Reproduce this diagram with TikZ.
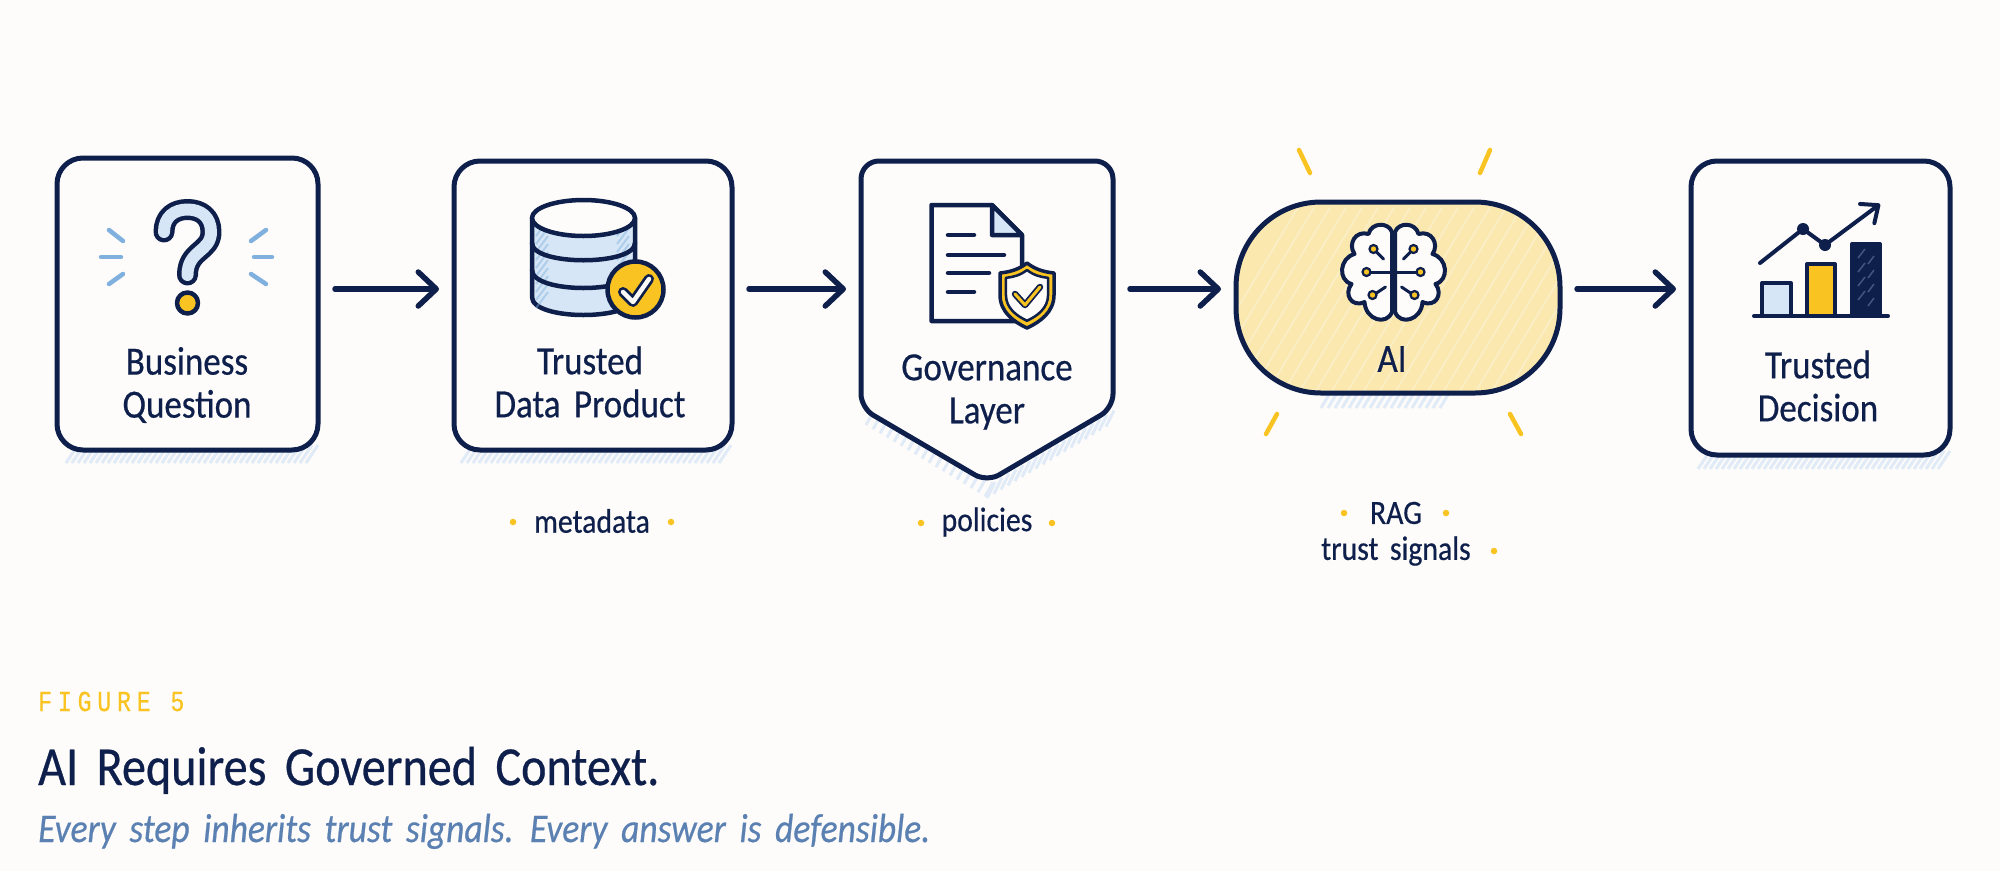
\documentclass[tikz,border=0pt]{standalone}
\usepackage{fontspec}
\setmainfont[WordSpace=1.7,FakeStretch=0.875,FakeBold=0.5]{Carlito}
\newfontfamily\captionmono[LetterSpace=20,FakeStretch=0.8,FakeBold=0.4]{Liberation Mono}
\usetikzlibrary{arrows.meta}
\definecolor{pagebg}{HTML}{FDFCFA}
\definecolor{inkblue}{HTML}{0E1F4B}
\definecolor{signyellow}{HTML}{F9C421}
\definecolor{softblue}{HTML}{D6E6F6}
\definecolor{rayblue}{HTML}{7FB0DE}
\definecolor{hatchblue}{HTML}{E0EBF7}
\definecolor{pillyellow}{HTML}{FBE8AE}
\definecolor{pillhatch}{HTML}{FCEEC4}
\definecolor{barhatch}{HTML}{44557F}
\definecolor{subtitleblue}{HTML}{5B80B2}
\tikzset{
    frame/.style={draw=inkblue,line width=5pt,fill=pagebg,outer sep=0pt,inner sep=0pt,rounded corners=26pt},
    ghost/.style={outer sep=0pt,inner sep=0pt},
    flowarrow/.style={draw=inkblue,line width=5.5pt,line cap=round,-{Straight Barb[length=18pt,width=34pt,round]},shorten <=17pt,shorten >=15pt},
    steplabel/.style={text=inkblue,align=center,font=\fontsize{40}{43}\selectfont,inner sep=0pt},
    sidelabel/.style={text=inkblue,font=\fontsize{34}{36}\selectfont,inner sep=0pt},
    sidedot/.style={circle,fill=signyellow,minimum size=6.5pt,inner sep=0pt},
    hatchline/.style={draw=hatchblue,line width=3pt},
    icon/.style={draw=inkblue,line width=4.5pt,line join=round,line cap=round},
    rayline/.style={draw=rayblue,line width=4.5pt,line cap=round},
    sunline/.style={draw=signyellow,line width=4.5pt,line cap=round},
}
\newcommand{\questionpath}{(164,232) .. controls (164,217) and (174,209.5) .. (187.5,209.5) .. controls (201,209.5) and (211,217) .. (211,232) .. controls (211,252) and (187.5,250) .. (187.5,275)}
\newcommand{\crestpath}{(1027,263) .. controls (1036,270) and (1045,272) .. (1054,273) -- (1054,295) .. controls (1054,312) and (1040,322) .. (1027,328) .. controls (1014,322) and (1000,312) .. (1000,295) -- (1000,273) .. controls (1009,272) and (1018,270) .. (1027,263) -- cycle}
\newcommand{\brainlobe}{(-1.5,-42) .. controls (-5,-52) and (-22,-52) .. (-25,-40) .. controls (-38,-44) and (-46,-30) .. (-39,-20) .. controls (-54,-16) and (-56,6) .. (-42,10) .. controls (-50,20) and (-42,34) .. (-29,28) .. controls (-28,46) and (-7,52) .. (-1.5,38) -- cycle}
\begin{document}
\begin{tikzpicture}[x=1pt,y=-1pt]
    \fill[pagebg] (0,0) rectangle (2000,871);
    \useasboundingbox (0,0) rectangle (2000,871);
    \coordinate (row) at (0,289);

    \foreach \hx in {66,72,...,310} \draw[hatchline] (\hx,463) -- ++(12,-18);
    \foreach \hx in {461,467,...,724} \draw[hatchline] (\hx,463) -- ++(12,-18);
    \foreach \hx in {866,873,...,985} \draw[hatchline] ({\hx},{422+(\hx-861)*0.6}) -- ++(8,-14);
    \foreach \hx in {987,994,...,1112} \draw[hatchline] ({\hx},{498-(\hx-987)*0.6}) -- ++(8,-16);
    \foreach \hx in {1321,1328,...,1445} \draw[hatchline] (\hx,408) -- ++(9,-15);
    \foreach \hx in {1698,1704,...,1942} \draw[hatchline] (\hx,469) -- ++(12,-18);

    \node[frame,minimum width=261pt,minimum height=292pt] (question) at (187.5,304) {};
    \node[frame,minimum width=278pt,minimum height=289pt] (product) at (593,305.5) {};
    \node[ghost,minimum width=252pt,minimum height=321pt] (governance) at (987,321.5) {};
    \coordinate (shoulder) at (0,408);
    \draw[draw=inkblue,line width=5pt,fill=pagebg,line join=round,rounded corners=18pt]
        (governance.north west) -- (governance.north east)
        [rounded corners=14pt] -- (governance.east |- shoulder)
        -- (governance.south)
        -- (governance.west |- shoulder)
        [rounded corners=18pt] -- cycle;
    \node[frame,fill=pillyellow,rounded corners=85pt,minimum width=324pt,minimum height=191pt,
        path picture={\foreach \hx in {-220,-204,...,220}
            \draw[draw=pillhatch,line width=2pt] ([shift={(\hx,110)}]path picture bounding box.center) -- ++(120,-200);}] (ai) at (1398,297.5) {};
    \node[frame,minimum width=259pt,minimum height=294pt] (decision) at (1820.5,308) {};

    \draw[flowarrow] (question.east |- row) -- (product.west |- row);
    \draw[flowarrow] (product.east |- row) -- (governance.west |- row);
    \draw[flowarrow] (governance.east |- row) -- (ai.west |- row);
    \draw[flowarrow] (ai.east |- row) -- (decision.west |- row);

    \foreach \ra/\rb/\rc/\rd in {109/230/123/241,101/257/121/257,109/284/123/274,266/230/251/241,272/257/254/257,266/284/251/274}
        \draw[rayline] (\ra,\rb) -- (\rc,\rd);
    \draw[inkblue,line width=21pt,line cap=round,line join=round] \questionpath;
    \draw[softblue,line width=12pt,line cap=round,line join=round] \questionpath;
    \draw[icon,fill=signyellow] (187.5,303) circle [radius=10.5];

    \draw[icon,fill=softblue] (532,218) -- (532,297) .. controls (532,321) and (635,321) .. (635,297) -- (635,218) -- cycle;
    \foreach \hy in {222,230,...,300} {
        \draw[rayblue,line width=2pt,opacity=.45] (536,\hy+14) -- ++(12,-16);
        \draw[rayblue,line width=2pt,opacity=.45] (617,\hy+14) -- ++(12,-16);
    }
    \draw[icon] (532,243) .. controls (532,266) and (635,266) .. (635,243);
    \draw[icon] (532,270) .. controls (532,294) and (635,294) .. (635,270);
    \draw[icon,fill=pagebg] (583.5,218) ellipse [x radius=51.5,y radius=18];
    \draw[icon,fill=signyellow] (635.5,289.5) circle [radius=28];
    \draw[inkblue,line width=10pt,line join=round,line cap=round] (623,292) -- (633,302) -- (649,279);
    \draw[pagebg,line width=4.5pt,line join=round,line cap=round] (623,292) -- (633,302) -- (649,279);

    \draw[icon,fill=pagebg] (931.5,205) -- (992,205) -- (1022,235) -- (1022,321) -- (931.5,321) -- cycle;
    \draw[icon,fill=softblue] (992,205) -- (992,235) -- (1022,235) -- cycle;
    \foreach \lx/\ly in {974/235,1004/255,989/273,974/292}
        \draw[icon] (948,\ly) -- (\lx,\ly);
    \draw[icon,line width=3.5pt,fill=signyellow] \crestpath;
    \begin{scope}[scale around={0.78:(1027,295)}]
        \draw[inkblue,line width=2.5pt,fill=pagebg,line join=round] \crestpath;
    \end{scope}
    \draw[inkblue,line width=6.5pt,line cap=round,line join=round] (1015,294) -- (1025,305) -- (1040,287);
    \draw[signyellow,line width=3pt,line cap=round,line join=round] (1015,294) -- (1025,305) -- (1040,287);

    \begin{scope}[shift={(1393.5,274)}]
        \draw[icon,line width=4pt,fill=pagebg] \brainlobe;
        \begin{scope}[xscale=-1]
            \draw[icon,line width=4pt,fill=pagebg] \brainlobe;
        \end{scope}
        \foreach \sx in {-1,1} {
            \draw[icon,line width=3pt] (\sx*1.5,-2) -- (\sx*24,-2);
            \draw[icon,line width=3pt] (\sx*20,-25) -- (\sx*10,-15);
            \draw[icon,line width=3pt] (\sx*20,21) -- (\sx*8,13);
            \foreach \cx/\cy in {27/-2,20/-25,21/21}
                \draw[inkblue,line width=2.2pt,fill=signyellow] (\sx*\cx,\cy) circle [radius=4];
        }
    \end{scope}

    \draw[sunline] (1299,150) -- (1310,173);
    \draw[sunline] (1490,150) -- (1480,173);
    \draw[sunline] (1277,414) -- (1266,434);
    \draw[sunline] (1510,414) -- (1521,434);

    \draw[icon,line width=4pt,fill=softblue] (1762,316) -- (1762,283) -- (1791,283) -- (1791,316);
    \draw[icon,line width=4pt,fill=signyellow] (1807,316) -- (1807,264) -- (1835,264) -- (1835,316);
    \draw[icon,line width=4pt,fill=inkblue] (1852,316) -- (1852,244) -- (1880,244) -- (1880,316);
    \foreach \by in {258,272,...,312}
        \draw[barhatch,line width=1.5pt] (1858,\by) -- ++(7,-9) (1868,\by+6) -- ++(6,-8);
    \draw[icon,line width=4pt] (1754,316) -- (1888,316);
    \draw[icon,line width=4pt,-{Straight Barb[length=14pt,width=24pt,round]}] (1760,263) -- (1803,229) -- (1825,245) -- (1880,204);
    \fill[inkblue] (1803,229) circle [radius=6];
    \fill[inkblue] (1825,245) circle [radius=6];

    \node[steplabel] (questionlabel) at (187,385) {Business\\Question};
    \node[steplabel] (productlabel) at (590,382) {Trusted\\Data Product};
    \node[steplabel] (governancelabel) at (987,392) {Governance\\Layer};
    \node[steplabel] (ailabel) at (1392,359) {AI};
    \node[steplabel] (decisionlabel) at (1818,386) {Trusted\\Decision};

    \node[sidelabel] (metadata) at (592,521) {metadata};
    \node[sidedot] (metadataleft) at (513,522) {};
    \node[sidedot] (metadataright) at (671,522) {};
    \node[sidelabel] (policies) at (987,522) {policies};
    \node[sidedot] (policiesleft) at (921,523) {};
    \node[sidedot] (policiesright) at (1052,523) {};
    \node[sidelabel] (rag) at (1396,513) {RAG};
    \node[sidedot] (ragleft) at (1344,513) {};
    \node[sidedot] (ragright) at (1446,513) {};
    \node[sidelabel] (signals) at (1396,551) {trust signals};
    \node[sidedot] (signalsright) at (1494,551) {};

    \node[anchor=base west,inner sep=0pt,text=signyellow,font=\captionmono\fontsize{29}{32}\selectfont] (figurename) at (38,711) {FIGURE 5};
    \node[anchor=base west,inner sep=0pt,text=inkblue,font=\fontsize{55}{60}\selectfont] (title) at (38,785) {AI Requires Governed Context.};
    \node[anchor=base west,inner sep=0pt,text=subtitleblue,font=\itshape\fontsize{40.6}{44}\selectfont] (subtitle) at (38,842) {Every step inherits trust signals. Every answer is defensible.};
\end{tikzpicture}
\end{document}
